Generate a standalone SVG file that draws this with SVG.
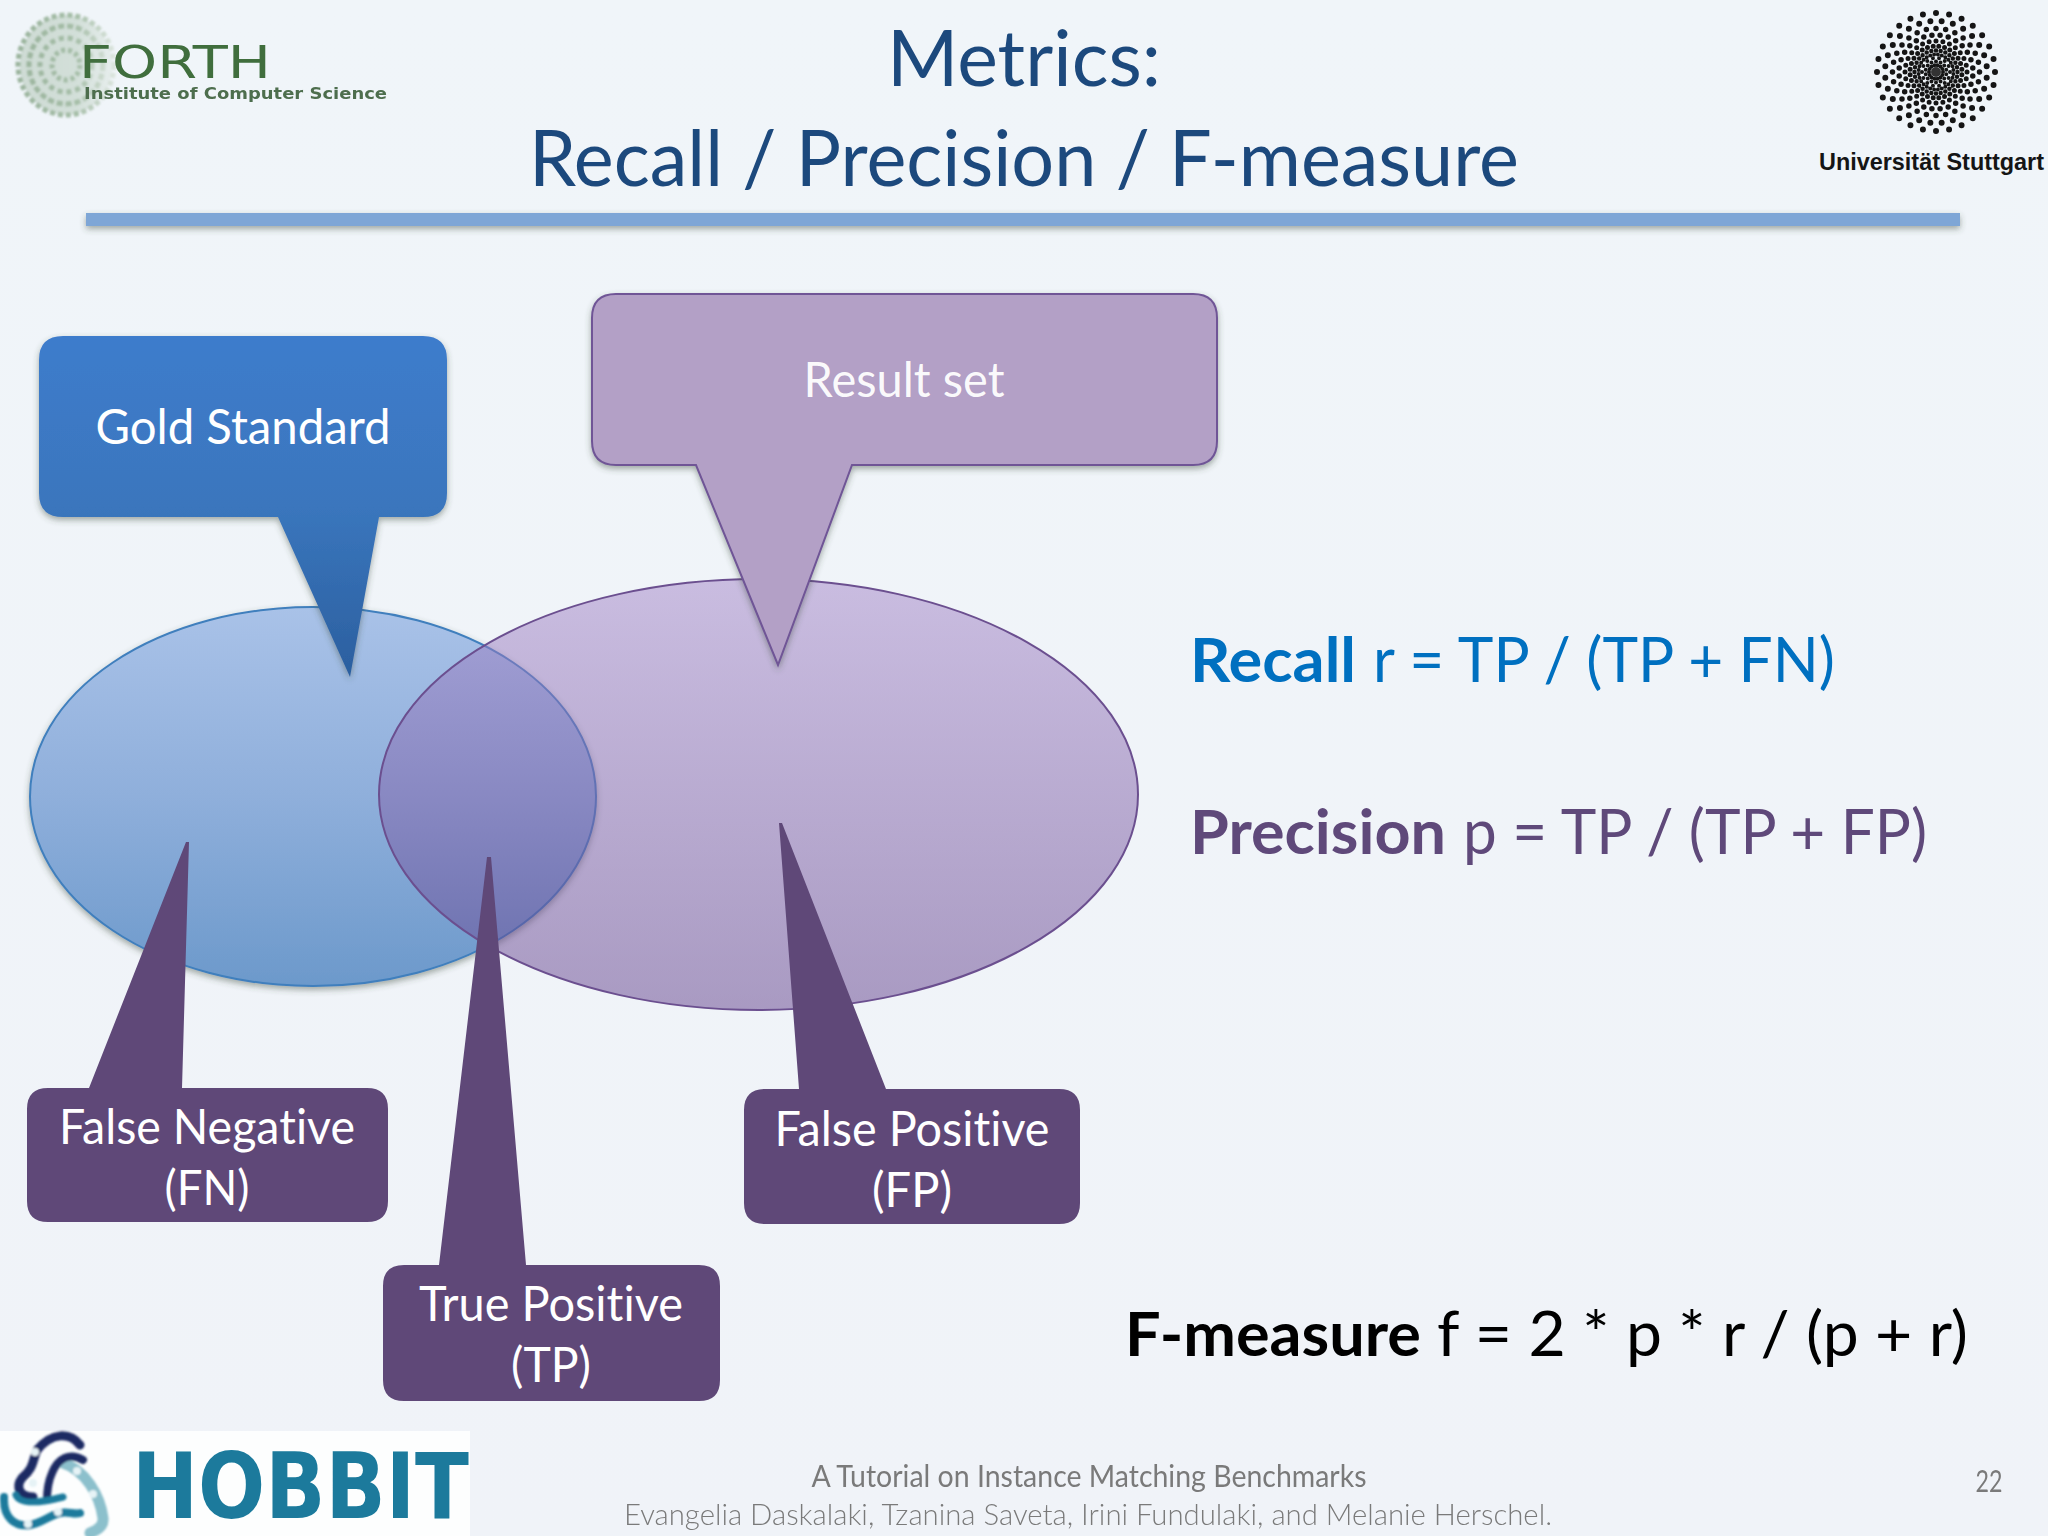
<svg xmlns="http://www.w3.org/2000/svg" width="2048" height="1536" viewBox="0 0 2048 1536">
<defs>
<linearGradient id="bg" x1="0" y1="0" x2="0" y2="1"><stop offset="0" stop-color="#f0f5f9"/><stop offset="1" stop-color="#f0f3f8"/></linearGradient>
<linearGradient id="gBlue" x1="0" y1="0" x2="0" y2="1"><stop offset="0" stop-color="#a9c2e8"/><stop offset="0.5" stop-color="#8fafdb"/><stop offset="1" stop-color="#6c99cb"/></linearGradient>
<linearGradient id="gPurple" x1="0" y1="0" x2="0" y2="1"><stop offset="0" stop-color="#a385c8"/><stop offset="1" stop-color="#62418c"/></linearGradient>
<linearGradient id="gGold" gradientUnits="userSpaceOnUse" x1="0" y1="336" x2="0" y2="677"><stop offset="0" stop-color="#3e7ccc"/><stop offset="0.5" stop-color="#3a76bd"/><stop offset="1" stop-color="#2b5f9f"/></linearGradient>
<filter id="shadow" x="-10%" y="-60%" width="120%" height="260%"><feDropShadow dx="0" dy="3" stdDeviation="3" flood-color="#3a4a3a" flood-opacity="0.45"/></filter>
<filter id="soft" x="-5%" y="-20%" width="110%" height="140%"><feGaussianBlur stdDeviation="0.5"/></filter>
<filter id="logoBlur" x="-10%" y="-10%" width="120%" height="120%"><feGaussianBlur stdDeviation="0.8"/></filter>
<linearGradient id="discFade" gradientUnits="userSpaceOnUse" x1="11" y1="0" x2="120" y2="0"><stop offset="0" stop-color="#7c9c7c"/><stop offset="0.6" stop-color="#8cab8c"/><stop offset="1" stop-color="#dfe7df"/></linearGradient>
<style>
.t{font-family:"Lato","Carlito","Open Sans",sans-serif;font-variant-ligatures:none}
.title{font-size:78px;fill:#1f497d;text-anchor:middle}
.lbl{font-size:48px;fill:#fff;text-anchor:middle}
.f{font-size:62px}
.b{font-weight:700}
.foot{fill:#7a7a7a;font-size:30px;text-anchor:middle}
.ring{fill:none;stroke:#151515;stroke-linecap:round;stroke-dasharray:0 1}
.disc{fill:none;stroke:url(#discFade)}
.box{fill:#5f4878}
.dot{fill:#e6f3f6;stroke:none}
</style>
</defs>
<rect width="2048" height="1536" fill="url(#bg)"/>

<g id="forth-logo">
<g filter="url(#logoBlur)" opacity="0.75">
<ellipse cx="66" cy="65" rx="46" ry="50" fill="url(#discFade)" opacity="0.4"/>
<ellipse class="disc" cx="66" cy="65" rx="48" ry="50" stroke-width="5" stroke-dasharray="5 3"/>
<ellipse class="disc" cx="66" cy="65" rx="37" ry="39" stroke-width="5" stroke-dasharray="6 3"/>
<ellipse class="disc" cx="66" cy="65" rx="26" ry="27" stroke-width="5" stroke-dasharray="5 4"/>
<ellipse class="disc" cx="66" cy="65" rx="14" ry="15" stroke-width="5" stroke-dasharray="4 3"/>
</g>
<text x="79" y="78" font-family="DejaVu Sans, sans-serif" font-size="44" fill="#3f6e3c" textLength="192" lengthAdjust="spacingAndGlyphs" filter="url(#soft)">FORTH</text>
<text x="84" y="99" font-family="DejaVu Sans, sans-serif" font-weight="700" font-size="15" fill="#4e6e4e" textLength="303" lengthAdjust="spacingAndGlyphs" filter="url(#soft)">Institute of Computer Science</text>
</g>

<g id="title" filter="url(#soft)">
<text class="title t" x="1024" y="86" textLength="274" lengthAdjust="spacingAndGlyphs">Metrics:</text>
<text class="title t" x="1024" y="186" textLength="990" lengthAdjust="spacingAndGlyphs">Recall / Precision / F-measure</text>
</g>

<g id="stuttgart-logo">
<g transform="translate(1936 72)">
<circle class="ring" r="59" stroke-width="6" pathLength="28"/>
<circle class="ring" r="51" stroke-width="6" pathLength="28" stroke-dashoffset="0.5"/>
<circle class="ring" r="43.5" stroke-width="5.5" pathLength="28"/>
<circle class="ring" r="37" stroke-width="5.5" pathLength="28" stroke-dashoffset="0.5"/>
<circle class="ring" r="31" stroke-width="5" pathLength="28"/>
<circle class="ring" r="26" stroke-width="5" pathLength="28" stroke-dashoffset="0.5"/>
<circle class="ring" r="21.5" stroke-width="4.5" pathLength="28"/>
<circle class="ring" r="17.5" stroke-width="4" pathLength="28" stroke-dashoffset="0.5"/>
<circle class="ring" r="14" stroke-width="4" pathLength="14"/>
<circle class="ring" r="10.5" stroke-width="4" pathLength="14" stroke-dashoffset="0.5"/>
<circle class="ring" r="7" stroke-width="4" pathLength="14"/>
<circle r="5" fill="#333"/>
</g>
<text x="1819" y="170" font-family="Liberation Sans, Arial, sans-serif" font-weight="700" font-size="24" fill="#151515" textLength="225" lengthAdjust="spacingAndGlyphs">Universität Stuttgart</text>
</g>

<g id="title-rule"><rect x="86" y="213" width="1874" height="13" fill="#7ea6d6" filter="url(#shadow)"/></g>

<g id="sets">
<ellipse id="gold-set" cx="313" cy="796.5" rx="283" ry="189.5" fill="url(#gBlue)" stroke="#3f7fbd" stroke-width="2" filter="url(#shadow)"/>
<ellipse id="result-set" cx="758.5" cy="794.5" rx="379.5" ry="215.5" fill="url(#gPurple)" fill-opacity="0.5" stroke="#6b4f8f" stroke-width="2"/>
</g>

<g id="gold-standard">
<path d="M63 336H423Q447 336 447 360V493Q447 517 423 517H379L350 677L278 517H63Q39 517 39 493V360Q39 336 63 336Z" fill="url(#gGold)" filter="url(#shadow)"/>
<text class="lbl t" x="243" y="444" textLength="295" lengthAdjust="spacingAndGlyphs">Gold Standard</text>
</g>
<g id="result-callout">
<path d="M616 294H1193Q1217 294 1217 318V441Q1217 465 1193 465H852L778 665L696 465H616Q592 465 592 441V318Q592 294 616 294Z" fill="#b3a0c6" stroke="#6f5596" stroke-width="2" filter="url(#shadow)"/>
<text class="lbl t" x="904" y="397" textLength="201" lengthAdjust="spacingAndGlyphs" fill-opacity="0.95">Result set</text>
</g>
<g id="false-negative">
<path class="box" d="M48 1088H89L186 842L189 842L182 1088H367Q388 1088 388 1109V1201Q388 1222 367 1222H48Q27 1222 27 1201V1109Q27 1088 48 1088Z"/>
<text class="lbl t" x="207" y="1144" textLength="296" lengthAdjust="spacingAndGlyphs">False Negative</text>
<text class="lbl t" x="207" y="1205" textLength="85" lengthAdjust="spacingAndGlyphs">(FN)</text>
</g>
<g id="true-positive">
<path class="box" d="M404 1265H439L487 857H491L526 1265H699Q720 1265 720 1286V1380Q720 1401 699 1401H404Q383 1401 383 1380V1286Q383 1265 404 1265Z"/>
<text class="lbl t" x="551" y="1321" textLength="264" lengthAdjust="spacingAndGlyphs">True Positive</text>
<text class="lbl t" x="551" y="1382" textLength="80" lengthAdjust="spacingAndGlyphs">(TP)</text>
</g>
<g id="false-positive">
<path class="box" d="M765 1089H799L779 823H782L886 1089H1059Q1080 1089 1080 1110V1203Q1080 1224 1059 1224H765Q744 1224 744 1203V1110Q744 1089 765 1089Z"/>
<text class="lbl t" x="912" y="1146" textLength="275" lengthAdjust="spacingAndGlyphs">False Positive</text>
<text class="lbl t" x="912" y="1207" textLength="80" lengthAdjust="spacingAndGlyphs">(FP)</text>
</g>

<g id="formulas" filter="url(#soft)">
<text class="t f b" x="1190" y="682" fill="#0070c0" textLength="166" lengthAdjust="spacingAndGlyphs">Recall</text>
<text class="t f" x="1373" y="682" fill="#0070c0" textLength="462" lengthAdjust="spacingAndGlyphs">r = TP / (TP + FN)</text>
<text class="t f b" x="1190" y="854" fill="#5f497a" textLength="256" lengthAdjust="spacingAndGlyphs">Precision</text>
<text class="t f" x="1463" y="854" fill="#5f497a" textLength="464" lengthAdjust="spacingAndGlyphs">p = TP / (TP + FP)</text>
<text class="t f b" x="1125" y="1356" fill="#000" textLength="296" lengthAdjust="spacingAndGlyphs">F-measure</text>
<text class="t f" x="1437" y="1356" fill="#000" textLength="531" lengthAdjust="spacingAndGlyphs">f = 2 * p * r / (p + r)</text>
</g>

<g id="hobbit-logo">
<rect x="0" y="1431" width="470" height="105" fill="#fdfefe"/>
<g fill="none" stroke-linecap="round" filter="url(#logoBlur)">
<path d="M63 1463C85 1470 100 1495 103 1518C104 1526 98 1530 90 1533" stroke="#8cc0cc" stroke-width="11"/>
<path d="M80 1445C70 1432 52 1432 37 1450C32 1462 34 1468 22 1478C15 1487 20 1497 33 1497" stroke="#1f2a63" stroke-width="9"/>
<path d="M83 1460C70 1452 58 1458 52 1473C48 1482 47 1490 47 1500" stroke="#1f2a63" stroke-width="8"/>
<path d="M4 1497C3 1518 15 1527 30 1525C42 1523 50 1515 60 1513C68 1511 74 1515 80 1513" stroke="#1a7a9c" stroke-width="8"/>
<path d="M16 1495C20 1505 40 1503 63 1497" stroke="#1a7a9c" stroke-width="7"/>
<circle class="dot" cx="35" cy="1452" r="4"/>
<circle class="dot" cx="33" cy="1483" r="4"/>
<circle class="dot" cx="77" cy="1471" r="4"/>
<circle class="dot" cx="93" cy="1494" r="4"/>
<circle class="dot" cx="58" cy="1512" r="4"/>
<circle class="dot" cx="28" cy="1524" r="4"/>
</g>
<text x="132" y="1518" font-family="DejaVu Sans, sans-serif" font-weight="700" font-size="90" fill="#1a7a9c" textLength="337" lengthAdjust="spacingAndGlyphs" filter="url(#soft)">HOBBIT</text>
</g>

<g id="footer" filter="url(#soft)">
<text class="foot t" x="1089" y="1487" textLength="555" lengthAdjust="spacingAndGlyphs" fill="#6f6f6f">A Tutorial on Instance Matching Benchmarks</text>
<text class="foot t" x="1088" y="1525" textLength="928" lengthAdjust="spacingAndGlyphs" font-weight="300">Evangelia Daskalaki, Tzanina Saveta, Irini Fundulaki, and Melanie Herschel.</text>
<text class="foot t" x="1989" y="1492" font-size="28" textLength="27" lengthAdjust="spacingAndGlyphs">22</text>
</g>
</svg>
